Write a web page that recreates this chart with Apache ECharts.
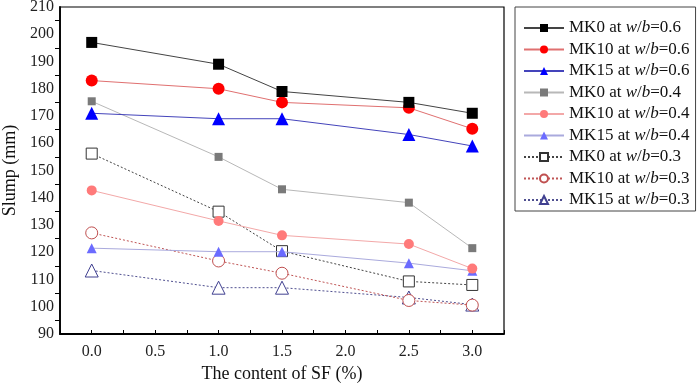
<!DOCTYPE html>
<html>
<head>
<meta charset="utf-8">
<script src="https://cdn.jsdelivr.net/npm/echarts@6/dist/echarts.min.js"></script>
<style>
  html, body { margin: 0; padding: 0; background: #fff; }
  #chart { width: 699px; height: 385px; }
</style>
</head>
<body>
<div id="chart"></div>
<script>
// SF content (%) on the x axis
var sfContent = [0, 1, 1.5, 2.5, 3];

// slump values (mm), one array per mix
var mk0_06  = [197, 189, 179, 175, 171];
var mk10_06 = [183, 180, 175, 173, 165.3];
var mk15_06 = [171, 169, 169, 163.2, 159];
var mk0_04  = [175.4, 155, 143.1, 138.2, 121.5];
var mk10_04 = [142.7, 131.5, 126.2, 123, 114];
var mk15_04 = [121.5, 120.2, 120.2, 116, 113.2];
var mk0_03  = [156.2, 134.9, 120.4, 109.3, 108];
var mk10_03 = [127.1, 116.8, 112.3, 102.3, 100.6];
var mk15_03 = [113.3, 107, 107, 103.4, 100.8];

var seriesNames = [
  'MK0 at w/b=0.6', 'MK10 at w/b=0.6', 'MK15 at w/b=0.6',
  'MK0 at w/b=0.4', 'MK10 at w/b=0.4', 'MK15 at w/b=0.4',
  'MK0 at w/b=0.3', 'MK10 at w/b=0.3', 'MK15 at w/b=0.3'
];
var seriesValues = [mk0_06, mk10_06, mk15_06, mk0_04, mk10_04, mk15_04, mk0_03, mk10_03, mk15_03];

var serif = "'Liberation Serif', 'Times New Roman', serif";

// look of each line: marker, marker colour, line colour, dashed or not
var styles = [
  {sym: 'rect',     size: 11, fill: '#000000', stroke: '#000000', line: '#444444', dash: 'solid'},
  {sym: 'circle',   size: 12, fill: '#ff0000', stroke: '#ff0000', line: '#e07070', dash: 'solid'},
  {sym: 'triangle', size: 13, fill: '#0000ff', stroke: '#0000ff', line: '#4444bb', dash: 'solid'},
  {sym: 'rect',     size: 8,  fill: '#7a7a7a', stroke: '#7a7a7a', line: '#b8b8b8', dash: 'solid'},
  {sym: 'circle',   size: 10, fill: '#ff7a7a', stroke: '#ff7a7a', line: '#f3a8a8', dash: 'solid'},
  {sym: 'triangle', size: 10, fill: '#6b6bff', stroke: '#6b6bff', line: '#aaaadd', dash: 'solid'},
  {sym: 'rect',     size: 11, fill: '#ffffff', stroke: '#333333', line: '#444444', dash: [2, 2]},
  {sym: 'circle',   size: 12, fill: '#ffffff', stroke: '#c05050', line: '#c05555', dash: [2, 2]},
  {sym: 'triangle', size: 13, fill: '#ffffff', stroke: '#404090', line: '#505090', dash: [2, 2]}
];

var series = seriesNames.map(function (name, i) {
  var st = styles[i];
  return {
    name: name,
    type: 'line',
    data: sfContent.map(function (x, j) { return [x, seriesValues[i][j]]; }),
    symbol: st.sym,
    symbolSize: st.size,
    lineStyle: { color: st.line, width: 1, type: st.dash },
    itemStyle: { color: st.fill, borderColor: st.stroke, borderWidth: st.fill === '#ffffff' ? 1 : 0 },
    z: 10 - i
  };
});

var option = {
  animation: false,
  backgroundColor: '#ffffff',
  grid: {
    left: 60, right: 195, top: 7, bottom: 51,
    outerBoundsMode: 'none',
    containLabel: false,
    show: true, borderColor: '#000', borderWidth: 1.2
  },
  xAxis: {
    type: 'value',
    min: -0.25, max: 3.25, interval: 0.25,
    name: 'The content of SF (%)',
    nameLocation: 'middle',
    nameGap: 31,
    nameTextStyle: { fontFamily: serif, fontSize: 18, color: '#111' },
    axisLine: { onZero: false, lineStyle: { color: '#000', width: 1.8 } },
    axisTick: { inside: true, length: 4, lineStyle: { color: '#000' } },
    splitLine: { show: false },
    axisLabel: {
      fontFamily: serif, fontSize: 16, color: '#222', margin: 10,
      showMinLabel: true, showMaxLabel: true,
      formatter: function (v) {
        var d = Math.round(v * 2);
        if (Math.abs(v * 2 - d) < 1e-6 && v >= 0 && v <= 3) return v.toFixed(1);
        return '';
      }
    }
  },
  yAxis: {
    type: 'value',
    min: 90, max: 210, interval: 10,
    name: 'Slump (mm)',
    nameLocation: 'middle',
    nameGap: 40,
    nameTextStyle: { fontFamily: serif, fontSize: 18, color: '#111' },
    axisLine: { show: true, onZero: false, lineStyle: { color: '#000', width: 1.8 } },
    axisTick: { show: false },
    minorTick: { show: true, splitNumber: 2, length: 5, lineStyle: { color: '#000' } },
    splitLine: { show: false },
    axisLabel: { fontFamily: serif, fontSize: 16, color: '#222', margin: 6 }
  },
  legend: {
    orient: 'vertical',
    left: 515, top: 7,
    padding: [12, 6, 2, 8],
    itemWidth: 40, itemHeight: 10, itemGap: 3.5,
    borderColor: '#444', borderWidth: 1,
    backgroundColor: '#fff',
    data: seriesNames,
    formatter: function (name) { return name.replace('w/b', '{i|w}/{i|b}'); },
    textStyle: {
      fontFamily: serif, fontSize: 17, color: '#111', lineHeight: 18,
      rich: { i: { fontFamily: serif, fontSize: 17, fontStyle: 'italic', color: '#111', lineHeight: 18 } }
    }
  },
  series: series
};

var myChart = echarts.init(document.getElementById('chart'));
myChart.setOption(option);
</script>
</body>
</html>
